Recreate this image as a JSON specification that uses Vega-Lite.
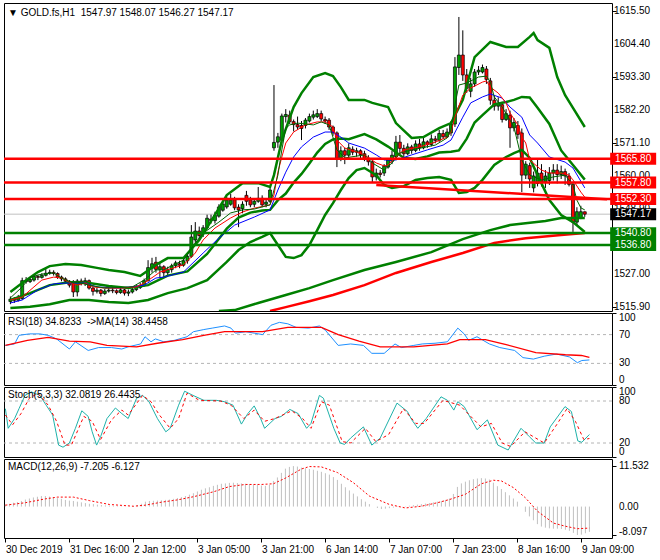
{
"$schema": "https://vega.github.io/schema/vega-lite/v6.json",
"padding": {"left": 2, "top": 2, "right": 0, "bottom": 0},
"background": "#ffffff",
"spacing": 2,
"bounds": "flush",
"config": {
  "view": {"stroke": "#000000", "strokeWidth": 1},
  "font": "Liberation Sans",
  "axis": {"labelFont": "Liberation Sans", "labelFontSize": 10, "labelColor": "#000000", "tickColor": "#000000", "domain": false, "grid": false, "title": null, "tickSize": 4, "labelPadding": 3, "labelOverlap": false},
  "title": {"font": "Liberation Sans", "fontSize": 10, "fontWeight": "normal", "color": "#000000", "anchor": "start", "frame": "group"},
  "text": {"font": "Liberation Sans", "fontSize": 10}
},
"datasets": {
  "bars": [
{"t":0,"o":1517.8,"h":1519.5,"l":1516.9,"c":1518.6,"m":0.6},
{"t":1,"o":1518.6,"h":1519.3,"l":1517.3,"c":1518.2,"m":0.8},
{"t":2,"o":1518.2,"h":1520.0,"l":1517.8,"c":1519.0,"m":1.1},
{"t":3,"o":1518.8,"h":1525.8,"l":1518.3,"c":1524.8,"m":1.3},
{"t":4,"o":1524.8,"h":1526.0,"l":1523.8,"c":1524.5,"m":1.6},
{"t":5,"o":1524.5,"h":1526.0,"l":1524.0,"c":1525.2,"m":2.0},
{"t":6,"o":1525.0,"h":1527.0,"l":1524.5,"c":1526.2,"m":2.3},
{"t":7,"o":1526.2,"h":1526.8,"l":1525.0,"c":1525.9,"m":2.6},
{"t":8,"o":1525.9,"h":1527.3,"l":1525.5,"c":1526.6,"m":2.8},
{"t":9,"o":1526.6,"h":1528.8,"l":1526.2,"c":1527.3,"m":3.0},
{"t":10,"o":1527.3,"h":1528.5,"l":1526.8,"c":1527.6,"m":3.0},
{"t":11,"o":1527.6,"h":1528.3,"l":1526.5,"c":1527.2,"m":2.85},
{"t":12,"o":1527.2,"h":1527.6,"l":1525.4,"c":1526.0,"m":2.6},
{"t":13,"o":1526.0,"h":1526.5,"l":1524.6,"c":1525.4,"m":2.4},
{"t":14,"o":1525.4,"h":1525.9,"l":1523.8,"c":1524.6,"m":2.2},
{"t":15,"o":1524.6,"h":1525.0,"l":1522.5,"c":1523.3,"m":1.9},
{"t":16,"o":1524.5,"h":1525.0,"l":1519.3,"c":1521.0,"m":1.7},
{"t":17,"o":1521.0,"h":1525.3,"l":1519.5,"c":1524.7,"m":1.6},
{"t":18,"o":1524.7,"h":1525.5,"l":1523.2,"c":1524.3,"m":1.4},
{"t":19,"o":1524.3,"h":1525.8,"l":1523.0,"c":1524.8,"m":1.2},
{"t":20,"o":1524.8,"h":1525.2,"l":1521.8,"c":1522.3,"m":1.0},
{"t":21,"o":1522.3,"h":1522.8,"l":1519.8,"c":1521.2,"m":0.8},
{"t":22,"o":1521.2,"h":1522.4,"l":1520.5,"c":1521.6,"m":0.7},
{"t":23,"o":1521.6,"h":1522.0,"l":1519.5,"c":1520.5,"m":0.55},
{"t":24,"o":1520.5,"h":1522.0,"l":1520.0,"c":1521.3,"m":0.45},
{"t":25,"o":1521.3,"h":1522.3,"l":1520.8,"c":1521.6,"m":0.35},
{"t":26,"o":1521.6,"h":1522.5,"l":1520.6,"c":1521.4,"m":0.3},
{"t":27,"o":1521.4,"h":1521.9,"l":1520.2,"c":1520.8,"m":0.2},
{"t":28,"o":1520.8,"h":1522.3,"l":1520.4,"c":1521.7,"m":0.15},
{"t":29,"o":1521.7,"h":1522.0,"l":1519.8,"c":1520.6,"m":0.1},
{"t":30,"o":1520.6,"h":1521.8,"l":1519.6,"c":1521.0,"m":0.05},
{"t":31,"o":1521.0,"h":1522.5,"l":1520.5,"c":1521.8,"m":0.05},
{"t":32,"o":1521.8,"h":1523.3,"l":1521.3,"c":1522.5,"m":0.15},
{"t":33,"o":1522.5,"h":1524.0,"l":1522.0,"c":1523.2,"m":0.4},
{"t":34,"o":1523.2,"h":1525.5,"l":1522.8,"c":1524.8,"m":0.8},
{"t":35,"o":1524.8,"h":1531.7,"l":1524.5,"c":1529.2,"m":1.4},
{"t":36,"o":1529.0,"h":1532.5,"l":1527.5,"c":1530.5,"m":1.6},
{"t":37,"o":1531.0,"h":1532.8,"l":1527.5,"c":1528.6,"m":1.65},
{"t":38,"o":1528.6,"h":1531.0,"l":1526.0,"c":1529.5,"m":1.7},
{"t":39,"o":1529.5,"h":1530.0,"l":1526.0,"c":1527.5,"m":1.8},
{"t":40,"o":1527.5,"h":1529.5,"l":1526.5,"c":1528.5,"m":1.9},
{"t":41,"o":1528.5,"h":1530.5,"l":1527.5,"c":1529.8,"m":2.0},
{"t":42,"o":1529.8,"h":1531.5,"l":1529.0,"c":1530.8,"m":2.2},
{"t":43,"o":1530.5,"h":1531.5,"l":1529.0,"c":1530.0,"m":2.45},
{"t":44,"o":1530.0,"h":1532.5,"l":1529.5,"c":1531.5,"m":2.7},
{"t":45,"o":1531.5,"h":1534.0,"l":1530.5,"c":1533.0,"m":3.0},
{"t":46,"o":1533.0,"h":1543.5,"l":1532.5,"c":1539.5,"m":3.4},
{"t":47,"o":1538.5,"h":1544.5,"l":1537.5,"c":1541.5,"m":3.8},
{"t":48,"o":1541.5,"h":1543.0,"l":1539.0,"c":1540.0,"m":4.3},
{"t":49,"o":1540.5,"h":1543.5,"l":1539.5,"c":1542.6,"m":4.8},
{"t":50,"o":1542.6,"h":1547.0,"l":1542.0,"c":1545.8,"m":5.2},
{"t":51,"o":1545.5,"h":1547.0,"l":1544.0,"c":1545.0,"m":5.5},
{"t":52,"o":1545.0,"h":1548.0,"l":1544.0,"c":1546.8,"m":5.9},
{"t":53,"o":1546.5,"h":1550.5,"l":1546.0,"c":1549.6,"m":6.2},
{"t":54,"o":1548.5,"h":1551.5,"l":1548.0,"c":1550.6,"m":6.5},
{"t":55,"o":1549.6,"h":1553.0,"l":1549.0,"c":1551.9,"m":6.6},
{"t":56,"o":1550.5,"h":1554.0,"l":1550.0,"c":1551.9,"m":6.75},
{"t":57,"o":1552.0,"h":1553.0,"l":1548.5,"c":1549.3,"m":6.8},
{"t":58,"o":1549.5,"h":1550.5,"l":1542.8,"c":1548.6,"m":6.7},
{"t":59,"o":1549.0,"h":1551.5,"l":1547.5,"c":1550.5,"m":6.6},
{"t":60,"o":1553.5,"h":1555.0,"l":1550.0,"c":1551.5,"m":6.5},
{"t":61,"o":1552.0,"h":1553.0,"l":1549.5,"c":1550.3,"m":6.4},
{"t":62,"o":1550.5,"h":1552.5,"l":1549.5,"c":1551.5,"m":6.3},
{"t":63,"o":1551.5,"h":1556.3,"l":1551.0,"c":1552.5,"m":6.2},
{"t":64,"o":1552.5,"h":1553.5,"l":1549.5,"c":1550.3,"m":6.0},
{"t":65,"o":1550.5,"h":1552.0,"l":1549.5,"c":1551.2,"m":5.9},
{"t":66,"o":1551.5,"h":1556.0,"l":1551.0,"c":1555.3,"m":6.2},
{"t":67,"o":1569.5,"h":1590.6,"l":1568.5,"c":1571.3,"m":7.3},
{"t":68,"o":1571.4,"h":1574.5,"l":1569.5,"c":1573.2,"m":8.3},
{"t":69,"o":1572.0,"h":1581.0,"l":1571.0,"c":1580.2,"m":9.6},
{"t":70,"o":1580.0,"h":1582.5,"l":1578.0,"c":1580.7,"m":10.8},
{"t":71,"o":1580.5,"h":1582.0,"l":1577.5,"c":1578.3,"m":11.3},
{"t":72,"o":1578.3,"h":1579.0,"l":1575.0,"c":1577.3,"m":11.53},
{"t":73,"o":1577.3,"h":1580.0,"l":1575.5,"c":1576.5,"m":11.4},
{"t":74,"o":1577.0,"h":1578.5,"l":1572.1,"c":1576.0,"m":11.1},
{"t":75,"o":1577.0,"h":1579.5,"l":1576.0,"c":1578.8,"m":10.9},
{"t":76,"o":1578.5,"h":1581.0,"l":1578.0,"c":1580.0,"m":10.7},
{"t":77,"o":1579.8,"h":1582.0,"l":1579.0,"c":1580.6,"m":10.5},
{"t":78,"o":1580.0,"h":1582.5,"l":1579.5,"c":1581.0,"m":10.2},
{"t":79,"o":1581.0,"h":1582.0,"l":1578.5,"c":1579.2,"m":9.9},
{"t":80,"o":1579.0,"h":1580.0,"l":1577.5,"c":1578.5,"m":9.5},
{"t":81,"o":1578.8,"h":1579.5,"l":1575.5,"c":1576.5,"m":9.1},
{"t":82,"o":1576.5,"h":1577.0,"l":1573.5,"c":1574.5,"m":8.4},
{"t":83,"o":1574.5,"h":1575.0,"l":1563.0,"c":1566.0,"m":7.6},
{"t":84,"o":1566.0,"h":1570.0,"l":1565.0,"c":1568.5,"m":6.5},
{"t":85,"o":1568.5,"h":1569.5,"l":1564.0,"c":1567.0,"m":5.5},
{"t":86,"o":1567.0,"h":1571.0,"l":1566.0,"c":1569.5,"m":4.6},
{"t":87,"o":1569.0,"h":1570.0,"l":1567.0,"c":1568.0,"m":3.7},
{"t":88,"o":1568.0,"h":1569.5,"l":1566.5,"c":1568.5,"m":2.9},
{"t":89,"o":1568.5,"h":1569.0,"l":1566.0,"c":1567.2,"m":2.1},
{"t":90,"o":1567.5,"h":1568.5,"l":1565.0,"c":1565.8,"m":1.4},
{"t":91,"o":1566.0,"h":1567.0,"l":1563.5,"c":1564.8,"m":0.7},
{"t":92,"o":1564.8,"h":1565.5,"l":1557.8,"c":1559.7,"m":0.0},
{"t":93,"o":1559.7,"h":1562.5,"l":1558.5,"c":1561.0,"m":-0.4},
{"t":94,"o":1561.0,"h":1562.0,"l":1559.5,"c":1560.5,"m":-0.7},
{"t":95,"o":1561.0,"h":1564.0,"l":1560.0,"c":1563.3,"m":-0.6},
{"t":96,"o":1563.0,"h":1566.0,"l":1562.5,"c":1565.4,"m":-0.45},
{"t":97,"o":1565.0,"h":1568.5,"l":1564.0,"c":1567.0,"m":-0.3},
{"t":98,"o":1566.5,"h":1573.5,"l":1566.0,"c":1571.4,"m":-0.1},
{"t":99,"o":1571.4,"h":1573.8,"l":1567.5,"c":1569.3,"m":0.0},
{"t":100,"o":1569.3,"h":1570.5,"l":1566.0,"c":1567.5,"m":0.1},
{"t":101,"o":1567.5,"h":1571.0,"l":1567.0,"c":1569.8,"m":0.25},
{"t":102,"o":1569.8,"h":1570.5,"l":1567.5,"c":1568.6,"m":0.4},
{"t":103,"o":1568.6,"h":1572.0,"l":1568.0,"c":1570.8,"m":0.55},
{"t":104,"o":1570.8,"h":1572.5,"l":1568.5,"c":1569.5,"m":0.7},
{"t":105,"o":1569.5,"h":1573.0,"l":1569.0,"c":1571.5,"m":0.85},
{"t":106,"o":1571.5,"h":1572.0,"l":1569.5,"c":1570.6,"m":1.0},
{"t":107,"o":1570.6,"h":1574.0,"l":1570.0,"c":1572.5,"m":1.2},
{"t":108,"o":1572.5,"h":1573.5,"l":1571.0,"c":1572.0,"m":1.4},
{"t":109,"o":1572.0,"h":1575.5,"l":1571.5,"c":1574.3,"m":1.6},
{"t":110,"o":1574.3,"h":1575.5,"l":1572.5,"c":1573.2,"m":1.9},
{"t":111,"o":1573.2,"h":1576.0,"l":1572.8,"c":1574.8,"m":2.3},
{"t":112,"o":1574.5,"h":1578.5,"l":1573.5,"c":1577.5,"m":3.6},
{"t":113,"o":1577.5,"h":1600.0,"l":1576.5,"c":1596.7,"m":5.6},
{"t":114,"o":1596.5,"h":1613.5,"l":1594.0,"c":1600.7,"m":6.6},
{"t":115,"o":1600.7,"h":1609.0,"l":1592.0,"c":1594.0,"m":7.1},
{"t":116,"o":1594.0,"h":1596.0,"l":1588.0,"c":1589.5,"m":7.5},
{"t":117,"o":1588.5,"h":1593.0,"l":1586.5,"c":1591.0,"m":7.8},
{"t":118,"o":1591.0,"h":1596.0,"l":1590.0,"c":1595.0,"m":8.0},
{"t":119,"o":1595.0,"h":1597.0,"l":1594.0,"c":1595.6,"m":8.1},
{"t":120,"o":1595.0,"h":1597.5,"l":1594.5,"c":1596.5,"m":8.0},
{"t":121,"o":1596.0,"h":1597.0,"l":1591.0,"c":1592.5,"m":7.7},
{"t":122,"o":1592.0,"h":1593.0,"l":1584.0,"c":1585.5,"m":6.8},
{"t":123,"o":1585.5,"h":1587.0,"l":1582.0,"c":1583.5,"m":5.8},
{"t":124,"o":1583.5,"h":1586.5,"l":1582.0,"c":1584.5,"m":5.0},
{"t":125,"o":1584.0,"h":1585.0,"l":1578.0,"c":1579.0,"m":4.1},
{"t":126,"o":1579.0,"h":1582.5,"l":1578.5,"c":1581.0,"m":3.2},
{"t":127,"o":1580.5,"h":1582.0,"l":1569.5,"c":1576.2,"m":2.3},
{"t":128,"o":1576.2,"h":1579.5,"l":1575.0,"c":1578.0,"m":1.4},
{"t":129,"o":1577.0,"h":1578.5,"l":1572.5,"c":1574.0,"m":0.0},
{"t":130,"o":1574.5,"h":1576.0,"l":1554.6,"c":1560.3,"m":-1.5},
{"t":131,"o":1560.3,"h":1565.0,"l":1559.0,"c":1564.0,"m":-2.8},
{"t":132,"o":1563.5,"h":1564.5,"l":1556.0,"c":1559.0,"m":-3.9},
{"t":133,"o":1556.0,"h":1561.5,"l":1554.5,"c":1560.0,"m":-5.0},
{"t":134,"o":1557.5,"h":1566.0,"l":1556.5,"c":1561.0,"m":-5.7},
{"t":135,"o":1561.0,"h":1564.0,"l":1556.5,"c":1558.0,"m":-6.0},
{"t":136,"o":1558.0,"h":1562.0,"l":1556.0,"c":1560.0,"m":-6.2},
{"t":137,"o":1558.5,"h":1563.0,"l":1557.0,"c":1561.0,"m":-6.3},
{"t":138,"o":1561.0,"h":1564.0,"l":1558.5,"c":1562.0,"m":-6.3},
{"t":139,"o":1562.0,"h":1564.0,"l":1557.5,"c":1560.5,"m":-6.4},
{"t":140,"o":1560.5,"h":1563.5,"l":1559.0,"c":1561.5,"m":-6.6},
{"t":141,"o":1561.5,"h":1562.5,"l":1557.0,"c":1560.0,"m":-6.9},
{"t":142,"o":1560.0,"h":1561.0,"l":1556.5,"c":1557.2,"m":-7.5},
{"t":143,"o":1557.2,"h":1558.0,"l":1541.2,"c":1544.5,"m":-8.097},
{"t":144,"o":1544.5,"h":1549.5,"l":1543.5,"c":1548.0,"m":-8.0},
{"t":145,"o":1546.0,"h":1550.0,"l":1545.5,"c":1548.0,"m":-7.6},
{"t":146,"o":1547.97,"h":1548.07,"l":1546.27,"c":1547.17,"m":-7.205}
  ],
  "lines": [
{"s":"bbu","t":0,"v":1521.0},{"s":"bbu","t":3,"v":1524.0},{"s":"bbu","t":7,"v":1527.7},{"s":"bbu","t":10,"v":1529.7},{"s":"bbu","t":14,"v":1530.4},{"s":"bbu","t":18,"v":1530.1},{"s":"bbu","t":22,"v":1529.1},{"s":"bbu","t":25,"v":1528.4},{"s":"bbu","t":29,"v":1527.7},{"s":"bbu","t":33,"v":1526.4},{"s":"bbu","t":37,"v":1530.1},{"s":"bbu","t":40,"v":1532.4},{"s":"bbu","t":44,"v":1532.4},{"s":"bbu","t":48,"v":1538.5},{"s":"bbu","t":52,"v":1546.9},{"s":"bbu","t":55,"v":1553.6},{"s":"bbu","t":59,"v":1557.6},{"s":"bbu","t":63,"v":1557.6},{"s":"bbu","t":66,"v":1556.3},{"s":"bbu","t":67,"v":1560.3},{"s":"bbu","t":69,"v":1572.1},{"s":"bbu","t":72,"v":1583.2},{"s":"bbu","t":74,"v":1587.9},{"s":"bbu","t":77,"v":1593.3},{"s":"bbu","t":80,"v":1594.6},{"s":"bbu","t":82,"v":1593.6},{"s":"bbu","t":84,"v":1589.9},{"s":"bbu","t":86,"v":1585.6},{"s":"bbu","t":90,"v":1585.6},{"s":"bbu","t":92,"v":1584.6},{"s":"bbu","t":96,"v":1583.2},{"s":"bbu","t":98,"v":1577.8},{"s":"bbu","t":102,"v":1572.8},{"s":"bbu","t":105,"v":1573.1},{"s":"bbu","t":109,"v":1576.1},{"s":"bbu","t":112,"v":1577.8},{"s":"bbu","t":115,"v":1585.6},{"s":"bbu","t":118,"v":1600.0},{"s":"bbu","t":122,"v":1605.1},{"s":"bbu","t":126,"v":1603.4},{"s":"bbu","t":129,"v":1603.4},{"s":"bbu","t":132,"v":1606.8},{"s":"bbu","t":133,"v":1608.1},{"s":"bbu","t":134,"v":1605.7},{"s":"bbu","t":137,"v":1603.1},{"s":"bbu","t":139,"v":1593.3},{"s":"bbu","t":141,"v":1587.2},{"s":"bbu","t":143,"v":1582.9},{"s":"bbu","t":146,"v":1576.5},
{"s":"bbm","t":0,"v":1518.3},{"s":"bbm","t":5,"v":1520.6},{"s":"bbm","t":10,"v":1523.3},{"s":"bbm","t":15,"v":1524.3},{"s":"bbm","t":20,"v":1524.0},{"s":"bbm","t":25,"v":1523.0},{"s":"bbm","t":30,"v":1522.3},{"s":"bbm","t":35,"v":1523.3},{"s":"bbm","t":40,"v":1526.5},{"s":"bbm","t":45,"v":1527.9},{"s":"bbm","t":50,"v":1533.8},{"s":"bbm","t":55,"v":1542.3},{"s":"bbm","t":58,"v":1546.0},{"s":"bbm","t":61,"v":1547.7},{"s":"bbm","t":64,"v":1548.4},{"s":"bbm","t":66,"v":1548.6},{"s":"bbm","t":68,"v":1551.9},{"s":"bbm","t":70,"v":1554.1},{"s":"bbm","t":72,"v":1557.8},{"s":"bbm","t":74,"v":1560.7},{"s":"bbm","t":76,"v":1564.2},{"s":"bbm","t":78,"v":1567.9},{"s":"bbm","t":80,"v":1570.8},{"s":"bbm","t":82,"v":1572.3},{"s":"bbm","t":84,"v":1572.6},{"s":"bbm","t":86,"v":1572.4},{"s":"bbm","t":90,"v":1574.1},{"s":"bbm","t":93,"v":1572.3},{"s":"bbm","t":96,"v":1569.9},{"s":"bbm","t":100,"v":1566.1},{"s":"bbm","t":103,"v":1565.7},{"s":"bbm","t":106,"v":1566.6},{"s":"bbm","t":109,"v":1567.9},{"s":"bbm","t":112,"v":1568.2},{"s":"bbm","t":114,"v":1568.6},{"s":"bbm","t":116,"v":1572.6},{"s":"bbm","t":118,"v":1578.0},{"s":"bbm","t":120,"v":1580.5},{"s":"bbm","t":123,"v":1584.1},{"s":"bbm","t":126,"v":1584.9},{"s":"bbm","t":128,"v":1585.6},{"s":"bbm","t":130,"v":1586.6},{"s":"bbm","t":132,"v":1586.4},{"s":"bbm","t":134,"v":1583.0},{"s":"bbm","t":137,"v":1577.5},{"s":"bbm","t":140,"v":1568.6},{"s":"bbm","t":143,"v":1563.7},{"s":"bbm","t":146,"v":1558.8},
{"s":"bbl","t":0,"v":1515.6},{"s":"bbl","t":5,"v":1516.0},{"s":"bbl","t":10,"v":1516.9},{"s":"bbl","t":15,"v":1518.3},{"s":"bbl","t":20,"v":1518.3},{"s":"bbl","t":25,"v":1517.6},{"s":"bbl","t":30,"v":1517.3},{"s":"bbl","t":35,"v":1518.3},{"s":"bbl","t":40,"v":1520.6},{"s":"bbl","t":45,"v":1522.3},{"s":"bbl","t":50,"v":1525.0},{"s":"bbl","t":55,"v":1531.1},{"s":"bbl","t":58,"v":1535.1},{"s":"bbl","t":61,"v":1537.8},{"s":"bbl","t":64,"v":1539.5},{"s":"bbl","t":66,"v":1540.8},{"s":"bbl","t":68,"v":1536.8},{"s":"bbl","t":70,"v":1532.8},{"s":"bbl","t":72,"v":1532.4},{"s":"bbl","t":74,"v":1533.4},{"s":"bbl","t":76,"v":1536.8},{"s":"bbl","t":78,"v":1541.8},{"s":"bbl","t":80,"v":1546.9},{"s":"bbl","t":82,"v":1550.9},{"s":"bbl","t":84,"v":1555.3},{"s":"bbl","t":86,"v":1559.3},{"s":"bbl","t":88,"v":1562.0},{"s":"bbl","t":90,"v":1562.7},{"s":"bbl","t":93,"v":1560.3},{"s":"bbl","t":95,"v":1557.0},{"s":"bbl","t":97,"v":1556.0},{"s":"bbl","t":100,"v":1556.6},{"s":"bbl","t":103,"v":1558.7},{"s":"bbl","t":106,"v":1559.3},{"s":"bbl","t":109,"v":1559.7},{"s":"bbl","t":112,"v":1558.7},{"s":"bbl","t":114,"v":1554.3},{"s":"bbl","t":116,"v":1554.6},{"s":"bbl","t":118,"v":1556.0},{"s":"bbl","t":120,"v":1558.7},{"s":"bbl","t":123,"v":1563.7},{"s":"bbl","t":126,"v":1566.4},{"s":"bbl","t":128,"v":1567.7},{"s":"bbl","t":130,"v":1568.8},{"s":"bbl","t":132,"v":1566.1},{"s":"bbl","t":134,"v":1560.3},{"s":"bbl","t":137,"v":1551.9},{"s":"bbl","t":140,"v":1546.9},{"s":"bbl","t":143,"v":1544.5},{"s":"bbl","t":146,"v":1541.2},
{"s":"lmg","t":53,"v":1514.6},{"s":"lmg","t":57,"v":1514.9},{"s":"lmg","t":63,"v":1517.3},{"s":"lmg","t":70,"v":1520.0},{"s":"lmg","t":76,"v":1522.3},{"s":"lmg","t":82,"v":1525.0},{"s":"lmg","t":90,"v":1528.4},{"s":"lmg","t":98,"v":1531.1},{"s":"lmg","t":107,"v":1534.4},{"s":"lmg","t":115,"v":1538.8},{"s":"lmg","t":122,"v":1541.8},{"s":"lmg","t":127,"v":1543.5},{"s":"lmg","t":136,"v":1544.9},{"s":"lmg","t":140,"v":1545.9},{"s":"lmg","t":146,"v":1545.9},
{"s":"lmr","t":66,"v":1514.6},{"s":"lmr","t":70,"v":1515.9},{"s":"lmr","t":76,"v":1517.9},{"s":"lmr","t":82,"v":1520.0},{"s":"lmr","t":90,"v":1523.3},{"s":"lmr","t":98,"v":1527.4},{"s":"lmr","t":107,"v":1531.1},{"s":"lmr","t":115,"v":1534.1},{"s":"lmr","t":123,"v":1537.5},{"s":"lmr","t":131,"v":1539.1},{"s":"lmr","t":140,"v":1540.2},{"s":"lmr","t":146,"v":1540.8},
{"s":"maf","t":0,"v":1518.3},{"s":"maf","t":3,"v":1519.3},{"s":"maf","t":6,"v":1522.7},{"s":"maf","t":8,"v":1525.0},{"s":"maf","t":11,"v":1526.0},{"s":"maf","t":13,"v":1525.7},{"s":"maf","t":15,"v":1524.3},{"s":"maf","t":17,"v":1523.3},{"s":"maf","t":19,"v":1524.0},{"s":"maf","t":21,"v":1522.7},{"s":"maf","t":24,"v":1522.3},{"s":"maf","t":28,"v":1522.3},{"s":"maf","t":32,"v":1522.7},{"s":"maf","t":34,"v":1524.0},{"s":"maf","t":37,"v":1526.7},{"s":"maf","t":38,"v":1527.7},{"s":"maf","t":44,"v":1530.1},{"s":"maf","t":47,"v":1534.1},{"s":"maf","t":49,"v":1538.5},{"s":"maf","t":52,"v":1542.5},{"s":"maf","t":56,"v":1545.9},{"s":"maf","t":59,"v":1547.9},{"s":"maf","t":62,"v":1549.2},{"s":"maf","t":66,"v":1550.3},{"s":"maf","t":67,"v":1553.6},{"s":"maf","t":68,"v":1561.3},{"s":"maf","t":69,"v":1566.4},{"s":"maf","t":70,"v":1571.1},{"s":"maf","t":72,"v":1574.8},{"s":"maf","t":75,"v":1577.2},{"s":"maf","t":78,"v":1578.2},{"s":"maf","t":80,"v":1578.2},{"s":"maf","t":82,"v":1576.5},{"s":"maf","t":83,"v":1572.1},{"s":"maf","t":85,"v":1569.4},{"s":"maf","t":88,"v":1568.1},{"s":"maf","t":90,"v":1567.1},{"s":"maf","t":93,"v":1564.4},{"s":"maf","t":95,"v":1563.4},{"s":"maf","t":96,"v":1563.7},{"s":"maf","t":98,"v":1566.4},{"s":"maf","t":100,"v":1568.8},{"s":"maf","t":104,"v":1569.8},{"s":"maf","t":108,"v":1571.4},{"s":"maf","t":111,"v":1573.1},{"s":"maf","t":112,"v":1574.8},{"s":"maf","t":113,"v":1579.8},{"s":"maf","t":115,"v":1587.2},{"s":"maf","t":117,"v":1589.6},{"s":"maf","t":120,"v":1591.6},{"s":"maf","t":121,"v":1592.0},{"s":"maf","t":122,"v":1589.9},{"s":"maf","t":124,"v":1587.9},{"s":"maf","t":126,"v":1584.6},{"s":"maf","t":127,"v":1581.2},{"s":"maf","t":129,"v":1577.2},{"s":"maf","t":130,"v":1573.1},{"s":"maf","t":131,"v":1571.1},{"s":"maf","t":132,"v":1565.4},{"s":"maf","t":135,"v":1562.0},{"s":"maf","t":137,"v":1561.0},{"s":"maf","t":140,"v":1561.0},{"s":"maf","t":142,"v":1560.3},{"s":"maf","t":143,"v":1558.7},{"s":"maf","t":145,"v":1554.6},{"s":"maf","t":146,"v":1552.9},
{"s":"mas","t":0,"v":1517.3},{"s":"mas","t":3,"v":1518.3},{"s":"mas","t":7,"v":1521.7},{"s":"mas","t":11,"v":1523.7},{"s":"mas","t":14,"v":1524.0},{"s":"mas","t":19,"v":1524.0},{"s":"mas","t":22,"v":1522.7},{"s":"mas","t":27,"v":1522.3},{"s":"mas","t":31,"v":1522.7},{"s":"mas","t":34,"v":1523.3},{"s":"mas","t":37,"v":1525.7},{"s":"mas","t":39,"v":1526.0},{"s":"mas","t":44,"v":1527.7},{"s":"mas","t":49,"v":1534.1},{"s":"mas","t":53,"v":1539.1},{"s":"mas","t":57,"v":1543.5},{"s":"mas","t":62,"v":1546.2},{"s":"mas","t":66,"v":1548.6},{"s":"mas","t":68,"v":1555.3},{"s":"mas","t":70,"v":1561.3},{"s":"mas","t":72,"v":1566.4},{"s":"mas","t":74,"v":1569.8},{"s":"mas","t":77,"v":1573.1},{"s":"mas","t":80,"v":1574.8},{"s":"mas","t":82,"v":1574.8},{"s":"mas","t":84,"v":1573.1},{"s":"mas","t":86,"v":1571.1},{"s":"mas","t":90,"v":1569.4},{"s":"mas","t":93,"v":1567.1},{"s":"mas","t":95,"v":1565.4},{"s":"mas","t":98,"v":1565.4},{"s":"mas","t":102,"v":1567.1},{"s":"mas","t":106,"v":1568.8},{"s":"mas","t":110,"v":1570.4},{"s":"mas","t":112,"v":1572.1},{"s":"mas","t":115,"v":1579.8},{"s":"mas","t":117,"v":1584.6},{"s":"mas","t":120,"v":1586.6},{"s":"mas","t":122,"v":1587.6},{"s":"mas","t":125,"v":1586.2},{"s":"mas","t":127,"v":1583.2},{"s":"mas","t":130,"v":1579.8},{"s":"mas","t":132,"v":1573.8},{"s":"mas","t":134,"v":1571.1},{"s":"mas","t":137,"v":1566.4},{"s":"mas","t":141,"v":1564.7},{"s":"mas","t":143,"v":1562.7},{"s":"mas","t":146,"v":1556.0},
{"s":"mat","t":0,"v":1519.0},{"s":"mat","t":3,"v":1522.7},{"s":"mat","t":5,"v":1526.0},{"s":"mat","t":8,"v":1527.0},{"s":"mat","t":11,"v":1527.4},{"s":"mat","t":13,"v":1525.7},{"s":"mat","t":16,"v":1524.0},{"s":"mat","t":17,"v":1524.3},{"s":"mat","t":20,"v":1523.3},{"s":"mat","t":24,"v":1522.3},{"s":"mat","t":31,"v":1522.7},{"s":"mat","t":34,"v":1525.0},{"s":"mat","t":37,"v":1528.4},{"s":"mat","t":39,"v":1528.5},{"s":"mat","t":44,"v":1531.7},{"s":"mat","t":47,"v":1537.5},{"s":"mat","t":49,"v":1540.8},{"s":"mat","t":53,"v":1544.5},{"s":"mat","t":56,"v":1547.6},{"s":"mat","t":59,"v":1548.6},{"s":"mat","t":62,"v":1548.9},{"s":"mat","t":66,"v":1550.3},{"s":"mat","t":67,"v":1555.3},{"s":"mat","t":68,"v":1560.3},{"s":"mat","t":69,"v":1568.8},{"s":"mat","t":70,"v":1576.1},{"s":"mat","t":71,"v":1577.2},{"s":"mat","t":73,"v":1577.8},{"s":"mat","t":77,"v":1577.2},{"s":"mat","t":79,"v":1578.2},{"s":"mat","t":81,"v":1577.2},{"s":"mat","t":83,"v":1568.8},{"s":"mat","t":85,"v":1566.1},{"s":"mat","t":90,"v":1567.1},{"s":"mat","t":92,"v":1564.4},{"s":"mat","t":95,"v":1562.0},{"s":"mat","t":97,"v":1564.4},{"s":"mat","t":99,"v":1567.7},{"s":"mat","t":102,"v":1568.8},{"s":"mat","t":108,"v":1570.4},{"s":"mat","t":111,"v":1572.8},{"s":"mat","t":112,"v":1575.5},{"s":"mat","t":113,"v":1583.9},{"s":"mat","t":114,"v":1590.6},{"s":"mat","t":116,"v":1591.3},{"s":"mat","t":119,"v":1593.3},{"s":"mat","t":121,"v":1593.6},{"s":"mat","t":122,"v":1591.6},{"s":"mat","t":123,"v":1586.6},{"s":"mat","t":125,"v":1583.2},{"s":"mat","t":127,"v":1578.8},{"s":"mat","t":128,"v":1576.5},{"s":"mat","t":130,"v":1565.4},{"s":"mat","t":132,"v":1560.3},{"s":"mat","t":135,"v":1558.7},{"s":"mat","t":138,"v":1559.7},{"s":"mat","t":141,"v":1560.3},{"s":"mat","t":143,"v":1557.0},{"s":"mat","t":144,"v":1551.9},{"s":"mat","t":145,"v":1549.3},{"s":"mat","t":146,"v":1548.6}
  ],
  "osc": [
{"s":"rsi","t":0,"v":55},{"s":"rsi","t":2.3,"v":57},{"s":"rsi","t":3.4,"v":69},{"s":"rsi","t":6,"v":71},{"s":"rsi","t":8.6,"v":71},{"s":"rsi","t":10.7,"v":69},{"s":"rsi","t":12.8,"v":64},{"s":"rsi","t":16,"v":50},{"s":"rsi","t":17.5,"v":60},{"s":"rsi","t":20.7,"v":48},{"s":"rsi","t":23.3,"v":52},{"s":"rsi","t":26.5,"v":52},{"s":"rsi","t":29.1,"v":50},{"s":"rsi","t":30.7,"v":53},{"s":"rsi","t":33.8,"v":57},{"s":"rsi","t":34.9,"v":67},{"s":"rsi","t":36.4,"v":60},{"s":"rsi","t":37.5,"v":64},{"s":"rsi","t":39.6,"v":60},{"s":"rsi","t":42.2,"v":62},{"s":"rsi","t":45.4,"v":67},{"s":"rsi","t":47,"v":74},{"s":"rsi","t":49.6,"v":77},{"s":"rsi","t":51.7,"v":79},{"s":"rsi","t":54.8,"v":82},{"s":"rsi","t":56.4,"v":79},{"s":"rsi","t":57.5,"v":72},{"s":"rsi","t":60.1,"v":74},{"s":"rsi","t":62.2,"v":72},{"s":"rsi","t":64.3,"v":70},{"s":"rsi","t":66.4,"v":83},{"s":"rsi","t":68.5,"v":87},{"s":"rsi","t":70.6,"v":85},{"s":"rsi","t":72.7,"v":80},{"s":"rsi","t":75.8,"v":79},{"s":"rsi","t":78.5,"v":82},{"s":"rsi","t":80,"v":76},{"s":"rsi","t":83.2,"v":55},{"s":"rsi","t":86.3,"v":57},{"s":"rsi","t":89.5,"v":55},{"s":"rsi","t":91.6,"v":44},{"s":"rsi","t":94.7,"v":44},{"s":"rsi","t":97.4,"v":57},{"s":"rsi","t":99,"v":52},{"s":"rsi","t":102.1,"v":55},{"s":"rsi","t":104.2,"v":57},{"s":"rsi","t":107.4,"v":58},{"s":"rsi","t":110.5,"v":60},{"s":"rsi","t":113.1,"v":79},{"s":"rsi","t":114.7,"v":71},{"s":"rsi","t":115.8,"v":62},{"s":"rsi","t":117.9,"v":67},{"s":"rsi","t":121,"v":57},{"s":"rsi","t":123.6,"v":52},{"s":"rsi","t":127.3,"v":48},{"s":"rsi","t":129.4,"v":38},{"s":"rsi","t":132,"v":36},{"s":"rsi","t":134.7,"v":40},{"s":"rsi","t":137.8,"v":43},{"s":"rsi","t":141,"v":39},{"s":"rsi","t":143,"v":31},{"s":"rsi","t":144.1,"v":34},{"s":"rsi","t":146,"v":34.8},
{"s":"rsima","t":0,"v":55},{"s":"rsima","t":5.5,"v":62},{"s":"rsima","t":10.7,"v":66},{"s":"rsima","t":16,"v":61},{"s":"rsima","t":21.2,"v":60},{"s":"rsima","t":25.4,"v":55},{"s":"rsima","t":32.8,"v":53},{"s":"rsima","t":38,"v":58},{"s":"rsima","t":44.3,"v":63},{"s":"rsima","t":49.6,"v":69},{"s":"rsima","t":54.8,"v":74},{"s":"rsima","t":64.3,"v":74},{"s":"rsima","t":70.6,"v":80},{"s":"rsima","t":79,"v":80},{"s":"rsima","t":83.2,"v":70},{"s":"rsima","t":88.4,"v":61},{"s":"rsima","t":93.7,"v":53},{"s":"rsima","t":102.1,"v":53},{"s":"rsima","t":110.5,"v":57},{"s":"rsima","t":113.6,"v":63},{"s":"rsima","t":120,"v":63},{"s":"rsima","t":125.2,"v":56},{"s":"rsima","t":132.6,"v":45},{"s":"rsima","t":140,"v":42},{"s":"rsima","t":144,"v":41},{"s":"rsima","t":146,"v":38.4},
{"s":"stk","t":0,"v":69},{"s":"stk","t":0.7,"v":41},{"s":"stk","t":2.3,"v":55},{"s":"stk","t":3.4,"v":69},{"s":"stk","t":4.9,"v":88},{"s":"stk","t":6.5,"v":93},{"s":"stk","t":8.6,"v":88},{"s":"stk","t":10.2,"v":74},{"s":"stk","t":11.8,"v":60},{"s":"stk","t":13.3,"v":17},{"s":"stk","t":14.4,"v":14},{"s":"stk","t":16,"v":20},{"s":"stk","t":17.5,"v":41},{"s":"stk","t":19.1,"v":66},{"s":"stk","t":20.7,"v":58},{"s":"stk","t":21.7,"v":36},{"s":"stk","t":22.8,"v":17},{"s":"stk","t":23.8,"v":29},{"s":"stk","t":25.4,"v":55},{"s":"stk","t":27.5,"v":70},{"s":"stk","t":29.1,"v":62},{"s":"stk","t":30.7,"v":55},{"s":"stk","t":32.8,"v":84},{"s":"stk","t":34.3,"v":88},{"s":"stk","t":35.9,"v":79},{"s":"stk","t":38,"v":55},{"s":"stk","t":40.1,"v":36},{"s":"stk","t":41.2,"v":41},{"s":"stk","t":43.3,"v":74},{"s":"stk","t":44.8,"v":94},{"s":"stk","t":46.9,"v":88},{"s":"stk","t":49.6,"v":81},{"s":"stk","t":52.7,"v":81},{"s":"stk","t":54.8,"v":79},{"s":"stk","t":56.9,"v":74},{"s":"stk","t":59,"v":47},{"s":"stk","t":60.6,"v":62},{"s":"stk","t":62.2,"v":73},{"s":"stk","t":63.8,"v":55},{"s":"stk","t":64.8,"v":41},{"s":"stk","t":67.4,"v":55},{"s":"stk","t":69,"v":58},{"s":"stk","t":71.1,"v":68},{"s":"stk","t":73.2,"v":62},{"s":"stk","t":75.3,"v":41},{"s":"stk","t":76.4,"v":48},{"s":"stk","t":78.5,"v":88},{"s":"stk","t":79.5,"v":84},{"s":"stk","t":82.1,"v":41},{"s":"stk","t":83.7,"v":20},{"s":"stk","t":84.8,"v":18},{"s":"stk","t":86.3,"v":27},{"s":"stk","t":89.5,"v":43},{"s":"stk","t":91.6,"v":17},{"s":"stk","t":93.7,"v":27},{"s":"stk","t":97.9,"v":77},{"s":"stk","t":100.5,"v":65},{"s":"stk","t":101.6,"v":53},{"s":"stk","t":103.1,"v":41},{"s":"stk","t":105.2,"v":55},{"s":"stk","t":108.9,"v":86},{"s":"stk","t":110.5,"v":81},{"s":"stk","t":112.1,"v":67},{"s":"stk","t":113.1,"v":79},{"s":"stk","t":114.7,"v":72},{"s":"stk","t":117.9,"v":39},{"s":"stk","t":120.5,"v":53},{"s":"stk","t":123.1,"v":17},{"s":"stk","t":125.7,"v":10},{"s":"stk","t":128.9,"v":41},{"s":"stk","t":131,"v":29},{"s":"stk","t":132.6,"v":20},{"s":"stk","t":134.7,"v":20},{"s":"stk","t":136.2,"v":43},{"s":"stk","t":139.9,"v":72},{"s":"stk","t":141.5,"v":65},{"s":"stk","t":143.1,"v":23},{"s":"stk","t":144.1,"v":21},{"s":"stk","t":146,"v":32.1},
{"s":"std","t":0,"v":60},{"s":"std","t":1.8,"v":46},{"s":"std","t":3.9,"v":62},{"s":"std","t":6,"v":84},{"s":"std","t":8.1,"v":91},{"s":"std","t":10.7,"v":74},{"s":"std","t":12.8,"v":51},{"s":"std","t":14.9,"v":17},{"s":"std","t":16.5,"v":17},{"s":"std","t":19.6,"v":58},{"s":"std","t":21.7,"v":51},{"s":"std","t":23.8,"v":25},{"s":"std","t":26.5,"v":53},{"s":"std","t":29.1,"v":67},{"s":"std","t":30.7,"v":60},{"s":"std","t":34.3,"v":88},{"s":"std","t":36.4,"v":79},{"s":"std","t":38.5,"v":60},{"s":"std","t":41.2,"v":41},{"s":"std","t":43.3,"v":55},{"s":"std","t":45.4,"v":91},{"s":"std","t":48.5,"v":81},{"s":"std","t":53.8,"v":80},{"s":"std","t":56.4,"v":74},{"s":"std","t":59.6,"v":55},{"s":"std","t":62.2,"v":67},{"s":"std","t":64.8,"v":51},{"s":"std","t":67.4,"v":55},{"s":"std","t":71.6,"v":66},{"s":"std","t":74.3,"v":55},{"s":"std","t":76.4,"v":41},{"s":"std","t":79,"v":79},{"s":"std","t":81,"v":74},{"s":"std","t":84.2,"v":22},{"s":"std","t":86.3,"v":20},{"s":"std","t":90,"v":41},{"s":"std","t":92.6,"v":22},{"s":"std","t":95.8,"v":32},{"s":"std","t":99.5,"v":69},{"s":"std","t":102.6,"v":48},{"s":"std","t":104.7,"v":48},{"s":"std","t":109.4,"v":81},{"s":"std","t":113.6,"v":74},{"s":"std","t":118.9,"v":43},{"s":"std","t":121.5,"v":48},{"s":"std","t":124.2,"v":20},{"s":"std","t":126.3,"v":15},{"s":"std","t":129.9,"v":36},{"s":"std","t":134.7,"v":20},{"s":"std","t":137.8,"v":46},{"s":"std","t":140.4,"v":69},{"s":"std","t":142.5,"v":51},{"s":"std","t":144.6,"v":25},{"s":"std","t":146,"v":26.4},
{"s":"sig","t":0,"v":0.4},{"s":"sig","t":5,"v":1.1},{"s":"sig","t":10,"v":2.2},{"s":"sig","t":13,"v":2.7},{"s":"sig","t":17,"v":2.7},{"s":"sig","t":21,"v":1.7},{"s":"sig","t":26,"v":0.6},{"s":"sig","t":32,"v":0.1},{"s":"sig","t":35,"v":0.4},{"s":"sig","t":39,"v":1.25},{"s":"sig","t":43,"v":1.9},{"s":"sig","t":47,"v":2.8},{"s":"sig","t":52,"v":4.2},{"s":"sig","t":56,"v":5.7},{"s":"sig","t":60,"v":6.3},{"s":"sig","t":64,"v":6.3},{"s":"sig","t":67,"v":6.5},{"s":"sig","t":70,"v":8.1},{"s":"sig","t":74,"v":10.7},{"s":"sig","t":76,"v":11.4},{"s":"sig","t":79,"v":11.3},{"s":"sig","t":83,"v":9.7},{"s":"sig","t":87,"v":6.8},{"s":"sig","t":91,"v":3.0},{"s":"sig","t":96,"v":0.6},{"s":"sig","t":100,"v":-0.4},{"s":"sig","t":104,"v":0.1},{"s":"sig","t":108,"v":1.1},{"s":"sig","t":111,"v":2.0},{"s":"sig","t":115,"v":3.5},{"s":"sig","t":119,"v":6.5},{"s":"sig","t":122,"v":7.5},{"s":"sig","t":124,"v":7.3},{"s":"sig","t":127,"v":5.4},{"s":"sig","t":130,"v":2.5},{"s":"sig","t":133,"v":-1.3},{"s":"sig","t":137,"v":-4.7},{"s":"sig","t":140,"v":-5.6},{"s":"sig","t":143,"v":-6.3},{"s":"sig","t":146,"v":-6.127}
  ],
  "levels": [
{"p":1565.8,"kind":"res"},{"p":1557.8,"kind":"res"},{"p":1552.3,"kind":"res"},{"p":1547.17,"kind":"bid"},{"p":1540.8,"kind":"sup"},{"p":1536.8,"kind":"sup"}
  ],
  "trend": [{"t":93,"p":1557.0},{"t":151.65,"p":1552.2}],
  "priceTicks": [{"v":1615.5},{"v":1604.4},{"v":1593.3},{"v":1582.2},{"v":1571.1},{"v":1560.0},{"v":1548.9},{"v":1527.0},{"v":1515.9}],
  "rsiTicks": [{"v":100,"lab":"100","pos":"top"},{"v":70,"lab":"70","pos":"mid"},{"v":30,"lab":"30","pos":"mid"},{"v":0,"lab":"0","pos":"bot"}],
  "stochTicks": [{"v":100,"lab":"100","pos":"top"},{"v":80,"lab":"80","pos":"mid"},{"v":20,"lab":"20","pos":"mid"},{"v":0,"lab":"0","pos":"bot"}],
  "macdTicks": [{"v":11.532,"lab":"11.532","pos":"mid"},{"v":0,"lab":"0.00","pos":"mid"},{"v":-8.097,"lab":"-8.097","pos":"base"}]
},
"vconcat": [
{
  "width": 608, "height": 308,
  "title": {"text": "▼ GOLD.fs,H1 \u00a01547.97 1548.07 1546.27 1547.17", "offset": -15, "dx": 4},
  "layer": [
    {"data": {"name": "levels"}, "transform": [{"filter": "datum.kind == 'bid'"}],
     "mark": {"type": "rule", "color": "#c0c0c0", "strokeWidth": 1},
     "encoding": {"y": {"field": "p", "type": "quantitative", "scale": {"domain": [1514.6, 1618.2], "nice": false, "zero": false},
        "axis": {"orient": "right", "values": [1615.5, 1604.4, 1593.3, 1582.2, 1571.1, 1560, 1548.9, 1527, 1515.9], "labels": false}}}},
    {"data": {"name": "bars"},
     "mark": {"type": "rule", "color": "#000000", "strokeWidth": 1},
     "encoding": {"x": {"field": "t", "type": "quantitative", "scale": {"domain": [-0.35, 151.65], "nice": false, "zero": false}, "axis": null},
        "y": {"field": "l", "type": "quantitative"}, "y2": {"field": "h"}}},
    {"data": {"name": "bars"},
     "mark": {"type": "bar", "width": 3, "stroke": "#000000", "strokeWidth": 0.7},
     "encoding": {"x": {"field": "t", "type": "quantitative"},
        "y": {"field": "o", "type": "quantitative"}, "y2": {"field": "c"},
        "fill": {"condition": {"test": "datum.c >= datum.o", "value": "#00a000"}, "value": "#ff0000"}}},
    {"data": {"name": "lines"}, "transform": [{"filter": "indexof(['bbu','bbm','bbl','lmg'], datum.s) >= 0"}],
     "mark": {"type": "line", "color": "#008000", "strokeWidth": 2.5, "clip": true},
     "encoding": {"x": {"field": "t", "type": "quantitative"}, "y": {"field": "v", "type": "quantitative"}, "detail": {"field": "s"}}},
    {"data": {"name": "lines"}, "transform": [{"filter": "datum.s == 'lmr'"}],
     "mark": {"type": "line", "color": "#ff0000", "strokeWidth": 2.5, "clip": true},
     "encoding": {"x": {"field": "t", "type": "quantitative"}, "y": {"field": "v", "type": "quantitative"}}},
    {"data": {"name": "lines"}, "transform": [{"filter": "datum.s == 'mas'"}],
     "mark": {"type": "line", "color": "#0000ff", "strokeWidth": 1, "clip": true},
     "encoding": {"x": {"field": "t", "type": "quantitative"}, "y": {"field": "v", "type": "quantitative"}}},
    {"data": {"name": "lines"}, "transform": [{"filter": "datum.s == 'maf'"}],
     "mark": {"type": "line", "color": "#ff0000", "strokeWidth": 1, "clip": true},
     "encoding": {"x": {"field": "t", "type": "quantitative"}, "y": {"field": "v", "type": "quantitative"}}},
    {"data": {"name": "lines"}, "transform": [{"filter": "datum.s == 'mat'"}],
     "mark": {"type": "line", "color": "#006400", "strokeWidth": 1, "clip": true},
     "encoding": {"x": {"field": "t", "type": "quantitative"}, "y": {"field": "v", "type": "quantitative"}}},
    {"data": {"name": "levels"}, "transform": [{"filter": "datum.kind != 'bid'"}],
     "mark": {"type": "rule", "strokeWidth": 2.5},
     "encoding": {"y": {"field": "p", "type": "quantitative"},
        "color": {"field": "kind", "type": "nominal", "scale": {"domain": ["res", "bid", "sup"], "range": ["#ff0000", "#000000", "#008000"]}, "legend": null}}},
    {"data": {"name": "trend"},
     "mark": {"type": "line", "color": "#ff0000", "strokeWidth": 2.5},
     "encoding": {"x": {"field": "t", "type": "quantitative"}, "y": {"field": "p", "type": "quantitative"}}},
    {"data": {"name": "priceTicks"},
     "mark": {"type": "text", "color": "#000000", "align": "left", "baseline": "middle"},
     "encoding": {"x": {"datum": 153.4, "type": "quantitative"}, "y": {"field": "v", "type": "quantitative"}, "text": {"field": "v", "format": ".2f"}}},
    {"data": {"name": "levels"},
     "mark": {"type": "point", "shape": "M-1,-0.26L1,-0.26L1,0.26L-1,0.26Z", "filled": true, "opacity": 1, "size": 2116, "strokeWidth": 0},
     "encoding": {"x": {"datum": 158.3, "type": "quantitative"}, "y": {"field": "p", "type": "quantitative"},
        "fill": {"field": "kind", "type": "nominal", "scale": {"domain": ["res", "bid", "sup"], "range": ["#ff0000", "#000000", "#008000"]}, "legend": null}}},
    {"data": {"name": "levels"},
     "mark": {"type": "text", "color": "#ffffff", "align": "center", "baseline": "middle"},
     "encoding": {"x": {"datum": 158.3, "type": "quantitative"}, "y": {"field": "p", "type": "quantitative"}, "text": {"field": "p", "format": ".2f"}}}
  ]
},
{
  "width": 608, "height": 72,
  "title": {"text": "RSI(18) 34.8233 \u00a0->MA(14) 38.4458", "offset": -14, "dx": 4},
  "layer": [
    {"data": {"values": [{"lv": 30}, {"lv": 70}]},
     "mark": {"type": "rule", "color": "#b4b4b4", "strokeDash": [3, 3], "strokeWidth": 1},
     "encoding": {"y": {"field": "lv", "type": "quantitative", "scale": {"domain": [0, 100], "nice": false},
        "axis": {"orient": "right", "values": [0, 30, 70, 100], "labels": false}}}},
    {"data": {"name": "osc"}, "transform": [{"filter": "datum.s == 'rsi'"}],
     "mark": {"type": "line", "color": "#1e90ff", "strokeWidth": 1},
     "encoding": {"x": {"field": "t", "type": "quantitative", "scale": {"domain": [-0.35, 151.65], "nice": false, "zero": false}, "axis": null}, "y": {"field": "v", "type": "quantitative"}}},
    {"data": {"name": "osc"}, "transform": [{"filter": "datum.s == 'rsima'"}],
     "mark": {"type": "line", "color": "#ff0000", "strokeWidth": 1.3},
     "encoding": {"x": {"field": "t", "type": "quantitative"}, "y": {"field": "v", "type": "quantitative"}}},
    {"data": {"name": "rsiTicks"}, "transform": [{"filter": "datum.pos == 'top'"}],
     "mark": {"type": "text", "color": "#000000", "align": "left", "baseline": "top"},
     "encoding": {"x": {"datum": 153.4, "type": "quantitative"}, "y": {"field": "v", "type": "quantitative"}, "text": {"field": "lab"}}},
    {"data": {"name": "rsiTicks"}, "transform": [{"filter": "datum.pos == 'mid'"}],
     "mark": {"type": "text", "color": "#000000", "align": "left", "baseline": "middle"},
     "encoding": {"x": {"datum": 153.4, "type": "quantitative"}, "y": {"field": "v", "type": "quantitative"}, "text": {"field": "lab"}}},
    {"data": {"name": "rsiTicks"}, "transform": [{"filter": "datum.pos == 'bot'"}],
     "mark": {"type": "text", "color": "#000000", "align": "left", "baseline": "bottom"},
     "encoding": {"x": {"datum": 153.4, "type": "quantitative"}, "y": {"field": "v", "type": "quantitative"}, "text": {"field": "lab"}}}
  ]
},
{
  "width": 608, "height": 70,
  "title": {"text": "Stoch(5,3,3) 32.0819 26.4435", "offset": -13, "dx": 4},
  "layer": [
    {"data": {"values": [{"lv": 20}, {"lv": 80}]},
     "mark": {"type": "rule", "color": "#b4b4b4", "strokeDash": [3, 3], "strokeWidth": 1},
     "encoding": {"y": {"field": "lv", "type": "quantitative", "scale": {"domain": [0, 100], "nice": false},
        "axis": {"orient": "right", "values": [0, 20, 80, 100], "labels": false}}}},
    {"data": {"name": "osc"}, "transform": [{"filter": "datum.s == 'stk'"}],
     "mark": {"type": "line", "color": "#20b2aa", "strokeWidth": 1},
     "encoding": {"x": {"field": "t", "type": "quantitative", "scale": {"domain": [-0.35, 151.65], "nice": false, "zero": false}, "axis": null}, "y": {"field": "v", "type": "quantitative"}}},
    {"data": {"name": "osc"}, "transform": [{"filter": "datum.s == 'std'"}],
     "mark": {"type": "line", "color": "#ff0000", "strokeWidth": 1, "strokeDash": [3, 3]},
     "encoding": {"x": {"field": "t", "type": "quantitative"}, "y": {"field": "v", "type": "quantitative"}}},
    {"data": {"name": "stochTicks"}, "transform": [{"filter": "datum.pos == 'top'"}],
     "mark": {"type": "text", "color": "#000000", "align": "left", "baseline": "top"},
     "encoding": {"x": {"datum": 153.4, "type": "quantitative"}, "y": {"field": "v", "type": "quantitative"}, "text": {"field": "lab"}}},
    {"data": {"name": "stochTicks"}, "transform": [{"filter": "datum.pos == 'mid'"}],
     "mark": {"type": "text", "color": "#000000", "align": "left", "baseline": "middle"},
     "encoding": {"x": {"datum": 153.4, "type": "quantitative"}, "y": {"field": "v", "type": "quantitative"}, "text": {"field": "lab"}}},
    {"data": {"name": "stochTicks"}, "transform": [{"filter": "datum.pos == 'bot'"}],
     "mark": {"type": "text", "color": "#000000", "align": "left", "baseline": "bottom"},
     "encoding": {"x": {"datum": 153.4, "type": "quantitative"}, "y": {"field": "v", "type": "quantitative"}, "text": {"field": "lab"}}}
  ]
},
{
  "width": 608, "height": 79,
  "title": {"text": "MACD(12,26,9) -7.205 -6.127", "offset": -13, "dx": 4},
  "layer": [
    {"data": {"name": "bars"},
     "mark": {"type": "rule", "color": "#c0c0c0", "strokeWidth": 1},
     "encoding": {"x": {"field": "t", "type": "quantitative", "scale": {"domain": [-0.35, 151.65], "nice": false, "zero": false},
        "axis": {"orient": "bottom", "values": [0, 16, 32, 48, 64, 80, 96, 112, 128, 144], "labelAlign": "left", "labelPadding": 2, "tickSize": 4,
          "labelExpr": "['30 Dec 2019','31 Dec 16:00','2 Jan 12:00','3 Jan 05:00','3 Jan 21:00','6 Jan 14:00','7 Jan 07:00','7 Jan 23:00','8 Jan 16:00','9 Jan 09:00'][round(datum.value/16)]"}},
        "y": {"field": "m", "type": "quantitative", "scale": {"domain": [-8.95, 13.55], "nice": false, "zero": false},
          "axis": {"orient": "right", "values": [11.532, 0, -8.097], "labels": false}},
        "y2": {"datum": 0}}},
    {"data": {"name": "osc"}, "transform": [{"filter": "datum.s == 'sig'"}],
     "mark": {"type": "line", "color": "#ff0000", "strokeWidth": 1, "strokeDash": [2, 2]},
     "encoding": {"x": {"field": "t", "type": "quantitative"}, "y": {"field": "v", "type": "quantitative"}}},
    {"data": {"name": "macdTicks"}, "transform": [{"filter": "datum.pos == 'mid'"}],
     "mark": {"type": "text", "color": "#000000", "align": "left", "baseline": "middle"},
     "encoding": {"x": {"datum": 153.4, "type": "quantitative"}, "y": {"field": "v", "type": "quantitative"}, "text": {"field": "lab"}}},
    {"data": {"name": "macdTicks"}, "transform": [{"filter": "datum.pos == 'base'"}],
     "mark": {"type": "text", "color": "#000000", "align": "left", "baseline": "alphabetic"},
     "encoding": {"x": {"datum": 153.4, "type": "quantitative"}, "y": {"field": "v", "type": "quantitative"}, "text": {"field": "lab"}}}
  ]
}
]
}
